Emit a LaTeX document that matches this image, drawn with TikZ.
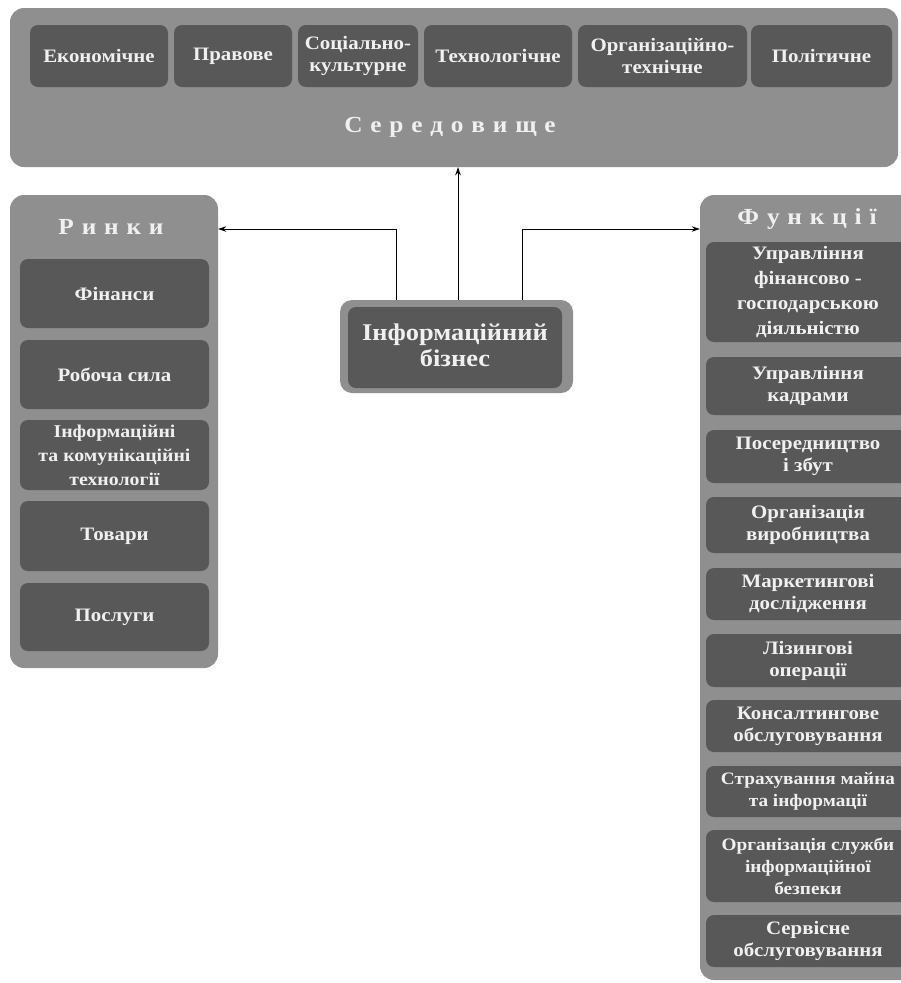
\documentclass[tikz,border=0pt]{standalone}
\usepackage{fontspec}
\setmainfont[FakeStretch=1.1]{Liberation Serif}
\usetikzlibrary{arrows.meta}
\definecolor{outerg}{RGB}{143,143,143}
\definecolor{innerg}{RGB}{88,88,88}
\definecolor{textw}{RGB}{240,240,240}
\tikzset{
  outerbox/.style={fill=outerg,draw=none,rounded corners=14pt,inner sep=0pt},
  innerbox/.style={fill=innerg,draw=none,rounded corners=8pt,inner sep=0pt,text=textw,align=center,
    font=\bfseries\fontsize{19}{22}\selectfont},
  titletext/.style={text=textw,font=\bfseries\fontsize{23}{26}\selectfont,inner sep=0pt},
  conn/.style={draw=black,line width=0.9pt,-{Stealth[length=8pt,width=5.5pt]}}
}
\newcommand\bx[7][]{\node[#1,minimum width={(#5)-(#3)},minimum height={(#6)-(#4)}] (#2) at ({((#3)+(#5))/2},{((#4)+(#6))/2}) {#7};}
\begin{document}
\begin{tikzpicture}[x=1pt,y=-1pt]
\useasboundingbox (0,0) rectangle (900,983);
% Середовище
\bx[outerbox]{sered}{10}{8}{898}{167}{}
\bx[innerbox]{ek}{30}{25}{168}{87}{Економічне}
\bx[innerbox]{pr}{174}{25}{292}{87}{Правове}
\bx[innerbox]{sk}{298}{25}{418}{87}{Соціально-\\культурне}
\bx[innerbox]{te}{424}{25}{572}{87}{Технологічне}
\bx[innerbox]{ot}{578}{25}{747}{87}{Організаційно-\\технічне}
\bx[innerbox]{po}{751}{25}{892}{87}{Політичне}
\node[titletext] (seredt) at (450,127) {\spaceskip=0.34em С е р е д о в и щ е};
% Ринки
\bx[outerbox]{rynky}{10}{195}{218}{668}{}
\node[titletext] (rynkyt) at (111,227) {\spaceskip=0.34em Р и н к и};
\bx[innerbox]{fin}{20}{259}{209}{328}{Фінанси}
\bx[innerbox]{rob}{20}{340}{209}{409}{Робоча сила}
\bx[innerbox,font=\bfseries\fontsize{18}{24}\selectfont]{ikt}{20}{420}{209}{490}{Інформаційні\\та комунікаційні\\технології}
\bx[innerbox]{tov}{20}{501}{209}{571}{Товари}
\bx[innerbox]{posl}{20}{583}{209}{651}{Послуги}
% Функції
\bx[outerbox]{funk}{700}{195}{930}{980}{}
\node[titletext] (funkt) at (807,219) {\spaceskip=0.34em Ф у н к ц і ї};
\bx[innerbox,font=\bfseries\fontsize{19}{25}\selectfont]{f1}{706}{242}{910}{342}{Управління\\фінансово -\\господарською\\діяльністю}
\bx[innerbox]{f2}{706}{357}{910}{415}{Управління\\кадрами}
\bx[innerbox]{f3}{706}{430}{910}{483}{Посередництво\\і збут}
\bx[innerbox]{f4}{706}{497}{910}{553}{Організація\\виробництва}
\bx[innerbox]{f5}{706}{568}{910}{620}{Маркетингові\\дослідження}
\bx[innerbox]{f6}{706}{634}{910}{687}{Лізингові\\операції}
\bx[innerbox]{f7}{706}{700}{910}{752}{Консалтингове\\обслуговування}
\bx[innerbox,font=\bfseries\fontsize{17.5}{22}\selectfont]{f8}{706}{766}{910}{817}{Страхування майна\\та інформації}
\bx[innerbox,font=\bfseries\fontsize{17.5}{22}\selectfont]{f9}{706}{830}{910}{902}{Організація служби\\інформаційної\\безпеки}
\bx[innerbox]{f10}{706}{915}{910}{967}{Сервісне\\обслуговування}
% Інформаційний бізнес
\bx[outerbox,rounded corners=12pt]{ib}{340}{300}{573}{393}{}
\bx[innerbox,font=\bfseries\fontsize{24}{28}\selectfont]{ibin}{348}{307}{562}{388}{\raisebox{-3pt}{\begin{tabular}{@{}c@{}}Інформаційний\\[-2pt]бізнес\end{tabular}}}
% connectors
\coordinate (cl) at (396,229);
\coordinate (cu) at (458,250);
\coordinate (cr) at (522,229);
\draw[conn] (ib.north -| cl) |- (rynky.east |- cl);
\draw[conn] (ib.north -| cu) -- (sered.south -| cu);
\draw[conn] (ib.north -| cr) |- (funk.west |- cr);
\end{tikzpicture}
\end{document}
